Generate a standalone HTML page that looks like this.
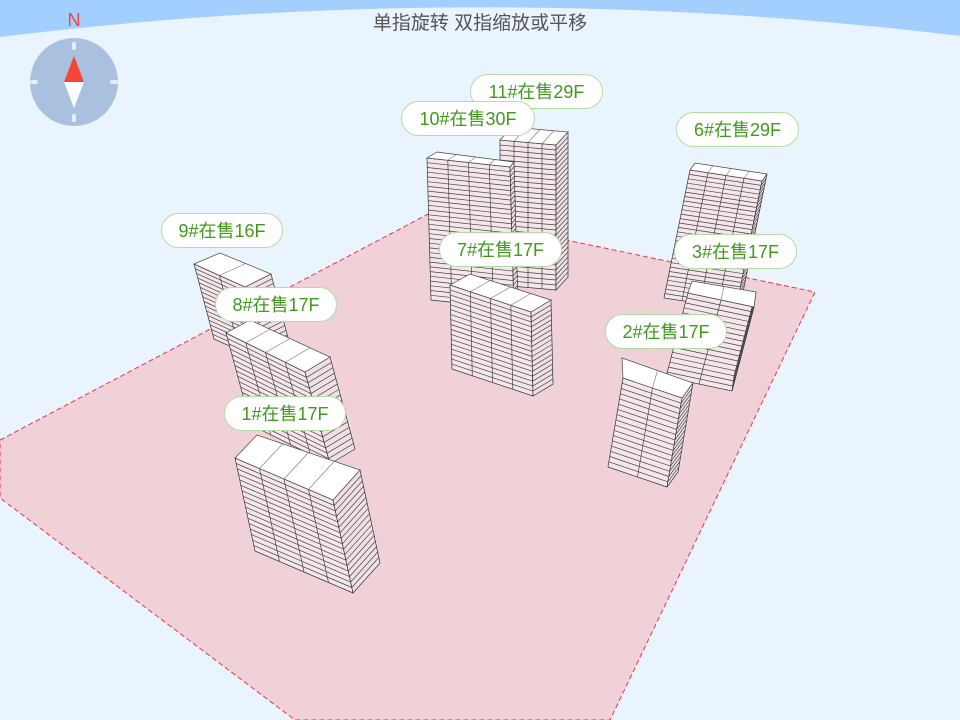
<!DOCTYPE html>
<html><head><meta charset="utf-8"><style>
html,body{margin:0;padding:0;width:960px;height:720px;overflow:hidden;background:#eaf4ff;font-family:"Liberation Sans","Noto Sans CJK SC",sans-serif}
svg{position:absolute;left:0;top:0}
.lb{position:absolute;height:35px;border:1px solid #b3dca4;background:#fff;border-radius:18px;color:#3f9a1c;font-size:18px;line-height:35px;text-align:center;box-sizing:border-box}
.title{position:absolute;left:0;width:960px;top:8px;text-align:center;font-size:19px;color:#555}
</style></head><body>
<svg id="s" width="960" height="720" viewBox="0 0 960 720">
<path d="M0,0 H960 V36 Q480,-22 0,37 Z" fill="#a3cffe"/>
<polygon points="0,440 432,212 815,292 610,720 295,720 0,498" fill="#efd1d7" stroke="#ee3344" stroke-width="1" stroke-dasharray="5,3"/>
<g id="b"></g>
<circle cx="74" cy="82" r="44" fill="#a9c1de"/>
<rect x="72" y="42" width="4" height="8" rx="2" fill="#e6eef8"/>
<rect x="72" y="114" width="4" height="8" rx="2" fill="#e6eef8"/>
<rect x="30" y="80" width="8" height="4" rx="2" fill="#e6eef8"/>
<rect x="110" y="80" width="8" height="4" rx="2" fill="#e6eef8"/>
<polygon points="74,56 64,82 84,82" fill="#f54438"/>
<polygon points="74,108 64,82 84,82" fill="#fff"/>
<text x="74" y="26" font-size="18" fill="#f54438" text-anchor="middle" font-family="Liberation Sans">N</text>
</svg>
<div class="title">单指旋转 双指缩放或平移</div>
<div class="lb" style="left:470px;top:74px;width:133px">11#在售29F</div>
<div class="lb" style="left:401px;top:101px;width:134px">10#在售30F</div>
<div class="lb" style="left:676px;top:112px;width:123px">6#在售29F</div>
<div class="lb" style="left:161px;top:213px;width:122px">9#在售16F</div>
<div class="lb" style="left:439px;top:232px;width:123px">7#在售17F</div>
<div class="lb" style="left:674px;top:234px;width:123px">3#在售17F</div>
<div class="lb" style="left:215px;top:287px;width:122px">8#在售17F</div>
<div class="lb" style="left:605px;top:314px;width:122px">2#在售17F</div>
<div class="lb" style="left:224px;top:396px;width:122px">1#在售17F</div>
<script>
var B=[
 [[500,140],[556,145],[568,132],[512,127],[0,145],29,4],
 [[427,158],[510,167],[514,162],[437,152],[4,142],30,4],
 [[690,170],[762,181],[767,174],[695,163],[-26,128],29,4],
 [[194,264],[245,287],[271,274],[220,253],[20,75],16,2],
 [[450,285],[531,312],[551,300],[470,274],[2,84],17,4],
 [[688,293],[754,307],[756,292],[692,281],[-22,84],17,2],
 [[226,333],[305,372],[330,357],[250,320],[25,92],17,4],
 [[623,378],[682,398],[693,383],[622,358],[-15,89],17,2],
 [[235,458],[333,500],[360,470],[257,435],[20,93],17,4]
];
var g=document.getElementById('b'),h='';
function P(a){return a.map(function(p){return p[0].toFixed(1)+','+p[1].toFixed(1)}).join(' ')}
function ad(p,v,t){return [p[0]+v[0]*t,p[1]+v[1]*t]}
function L(p,q){return '<line x1="'+p[0].toFixed(1)+'" y1="'+p[1].toFixed(1)+'" x2="'+q[0].toFixed(1)+'" y2="'+q[1].toFixed(1)+'"/>'}
function lerp(p,q,t){return [p[0]+(q[0]-p[0])*t,p[1]+(q[1]-p[1])*t]}
B.forEach(function(b){
 var A=b[0],Bp=b[1],C=b[2],D=b[3],v=b[4],n=b[5],u=b[6];
 h+='<polygon points="'+P([A,Bp,ad(Bp,v,1),ad(A,v,1)])+'" fill="#f4e6ea" stroke="#333" stroke-width="0.7"/>';
 h+='<polygon points="'+P([Bp,C,ad(C,v,1),ad(Bp,v,1)])+'" fill="#efe0e5" stroke="#333" stroke-width="0.7"/>';
 h+='<g stroke="#444" stroke-width="0.7">';
 for(var i=1;i<n;i++){var t=i/n;h+=L(ad(A,v,t),ad(Bp,v,t))+L(ad(Bp,v,t),ad(C,v,t));}
 for(var j=1;j<u;j++){var p=lerp(A,Bp,j/u);h+=L(p,ad(p,v,1));}
 h+='</g>';
 h+='<polygon points="'+P([A,Bp,C,D])+'" fill="#fff" stroke="#444" stroke-width="0.7"/>';
 for(var j=1;j<u;j++){var p1=lerp(A,Bp,j/u),p2=lerp(D,C,j/u);h+='<line x1="'+p1[0]+'" y1="'+p1[1]+'" x2="'+p2[0]+'" y2="'+p2[1]+'" stroke="#777" stroke-width="0.6"/>';}
});
g.innerHTML=h;
</script>
</body></html>
